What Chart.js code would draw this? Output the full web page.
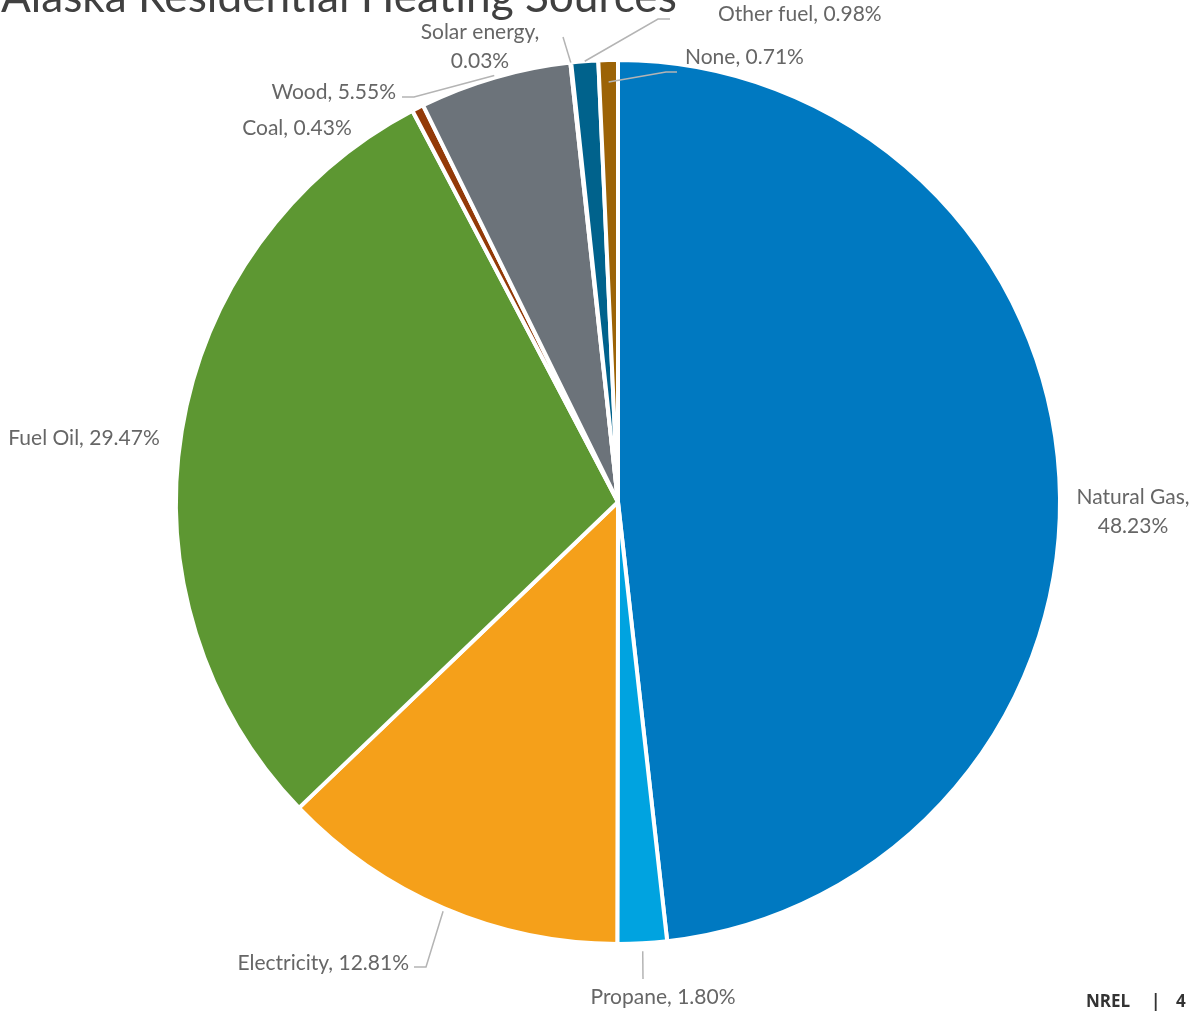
<!DOCTYPE html>
<html>
<head>
<meta charset="utf-8">
<script src="https://cdn.jsdelivr.net/npm/chart.js@4.4.0/dist/chart.umd.min.js"></script>
<style>
  html, body { margin:0; padding:0; background:#fff; }
  #wrap { position:relative; width:1202px; height:1011px; overflow:hidden; }
</style>
</head>
<body>
<div id="wrap"><canvas id="pie" width="1202" height="1011"></canvas></div>
<script>
// data
const categories = ['Natural Gas','Propane','Electricity','Fuel Oil','Coal','Wood','Solar energy','Other fuel','None'];
const shares = [48.23, 1.80, 12.81, 29.47, 0.43, 5.55, 0.03, 0.98, 0.71];
const colors = ['#0079C1','#00A3E0','#F5A01A','#5D9732','#933A08','#6C737A','#8DC8E8','#00628C','#9C6306'];

// label layout: text anchor, alignment, leader path (label side first), anchor radius offset
const labelLayout = [
  { x:1133, y:497, align:'center', split:true },
  { x:663,  y:997, align:'center', leader:[[643,979]], dr:8 },
  { x:409,  y:963, align:'right',  leader:[[414,967],[426,967]], dr:3 },
  { x:84,   y:438, align:'center' },
  { x:297,  y:128, align:'center' },
  { x:396,  y:92,  align:'right',  leader:[[402,97],[414,97]], dr:2 },
  { x:480,  y:32,  align:'center', split:true, leader:[[563,37]], dr:0 },
  { x:718,  y:14,  align:'left',   leader:[[670,19],[658,19]], dr:0 },
  { x:685,  y:57,  align:'left',   leader:[[677,72],[666,72]], dr:-22 }
];

const labelPlugin = {
  id: 'pieLabels',
  afterDraw(chart) {
    const ctx = chart.ctx;
    const arcs = chart.getDatasetMeta(0).data;
    ctx.save();
    ctx.font = '21px Lato, "Open Sans", sans-serif';
    ctx.fillStyle = '#666666';
    ctx.textBaseline = 'middle';
    arcs.forEach((arc, i) => {
      const L = labelLayout[i];
      const pct = shares[i].toFixed(2) + '%';
      const lines = L.split ? [categories[i] + ',', pct] : [categories[i] + ', ' + pct];
      ctx.textAlign = L.align;
      lines.forEach((t, k) => ctx.fillText(t, L.x, L.y + k * 29));
      if (L.leader) {
        const p = arc.getProps(['x','y','startAngle','endAngle','outerRadius'], true);
        const mid = (p.startAngle + p.endAngle) / 2;
        const r = p.outerRadius + L.dr;
        const ax = p.x + Math.cos(mid) * r, ay = p.y + Math.sin(mid) * r;
        ctx.strokeStyle = '#b4b4b4';
        ctx.lineWidth = 1.5;
        ctx.beginPath();
        L.leader.forEach((pt, k) => k ? ctx.lineTo(pt[0], pt[1]) : ctx.moveTo(pt[0], pt[1]));
        ctx.lineTo(ax, ay);
        ctx.stroke();
      }
    });
    // title
    ctx.fillStyle = '#404040';
    ctx.textAlign = 'left';
    ctx.textBaseline = 'alphabetic';
    let fs = 40;
    ctx.font = fs + 'px Lato, sans-serif';
    const title = 'Alaska Residential Heating Sources';
    fs = fs * 676 / ctx.measureText(title).width;
    ctx.font = fs + 'px Lato, sans-serif';
    ctx.fillText(title, 1, 12);
    // footer
    ctx.fillStyle = '#333333';
    ctx.font = 'bold 17px "Open Sans", sans-serif';
    ctx.fillText('NREL', 1086, 1007);
    ctx.fillText('|', 1151, 1007);
    ctx.fillText('4', 1176, 1007);
    ctx.restore();
  }
};

new Chart(document.getElementById('pie'), {
  type: 'pie',
  data: {
    labels: categories,
    datasets: [{ data: shares, backgroundColor: colors, borderColor: '#ffffff', borderWidth: 4 }]
  },
  options: {
    responsive: false,
    animation: false,
    layout: { padding: { left: 174, right: 140, top: 58, bottom: 65 } },
    plugins: { legend: { display: false }, tooltip: { enabled: false } }
  },
  plugins: [labelPlugin]
});
</script>
</body>
</html>
